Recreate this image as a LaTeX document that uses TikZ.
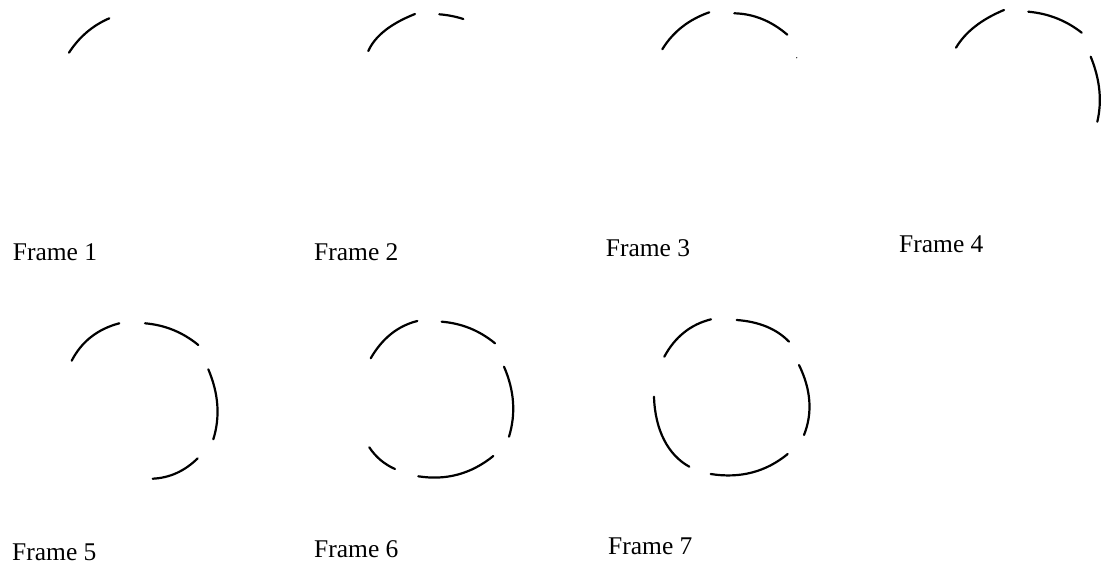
\documentclass[tikz,border=0pt]{standalone}
\usepackage{fontspec}
\usetikzlibrary{calc}
\setmainfont{Liberation Serif}
% arc through start, middle and end point (quadratic-like)
\newcommand{\arcthru}[3]{%
  \draw[stroke] (#1) .. controls ($(#1)!2/3!($2*(#2)-0.5*(#1)-0.5*(#3)$)$)
     and ($(#3)!2/3!($2*(#2)-0.5*(#1)-0.5*(#3)$)$) .. (#3);}
\begin{document}
\begin{tikzpicture}[x=1pt,y=-1pt,
  stroke/.style={line width=2.2pt, line cap=round, line join=round},
  lbl/.style={anchor=base west, inner sep=0pt, font=\fontsize{25.5}{30}\selectfont}]
\useasboundingbox (0,0) rectangle (1102,569);
% Frame 1
\arcthru{69,52.7}{86.7,32.3}{109.3,18.3}
% Frame 2
\arcthru{368.3,51}{385,30.5}{415,14}
\arcthru{439.3,14.3}{451.7,16}{463.3,19}
% Frame 3
\arcthru{662.3,49.3}{682,27}{709.3,12.3}
\arcthru{734.3,13.3}{762,19}{787.3,34.7}
\fill (796.7,57.7) circle (0.6);
% Frame 4
\arcthru{956,47.7}{975,26.5}{1004,10}
\arcthru{1028.3,11.7}{1056.7,18.3}{1081.7,32.7}
\arcthru{1090.7,56.7}{1099.3,90}{1097.3,121.7}
% Frame 5
\arcthru{71.7,360.7}{91,337}{119.3,323.3}
\arcthru{145,323.3}{173.3,330}{198.3,345}
\arcthru{208.3,369.3}{217.3,405}{213.3,439.3}
\arcthru{197.7,458.3}{176.7,473}{152.7,478.7}
% Frame 6
\arcthru{370.7,358.3}{391,334}{417.3,321}
\arcthru{441.7,321.7}{470,328.3}{495,343.3}
\arcthru{504,366.7}{513,402}{509,436.7}
\arcthru{493.3,456}{458,474.5}{418.3,476.3}
\arcthru{369.3,447.3}{380.5,460}{395,469}
% Frame 7
\arcthru{664.3,356.7}{684,332.5}{711,319.3}
\arcthru{736.7,320}{766.7,326.7}{789,341.7}
\arcthru{799,365}{809.3,401}{804,435}
\arcthru{787.7,454}{752,472.5}{710.7,474}
\draw[stroke] (654,396.7) .. controls (655,430) and (668,455) .. (689.3,466.7);
% labels
\node[lbl] (l1) at (12.7,260) {Frame 1};
\node[lbl] (l2) at (314,260) {Frame 2};
\node[lbl] (l3) at (605.7,256) {Frame 3};
\node[lbl] (l4) at (899,253) {Frame 4};
\node[lbl] (l5) at (12,560) {Frame 5};
\node[lbl] (l6) at (314,557) {Frame 6};
\node[lbl] (l7) at (608,554) {Frame 7};
\end{tikzpicture}
\end{document}
